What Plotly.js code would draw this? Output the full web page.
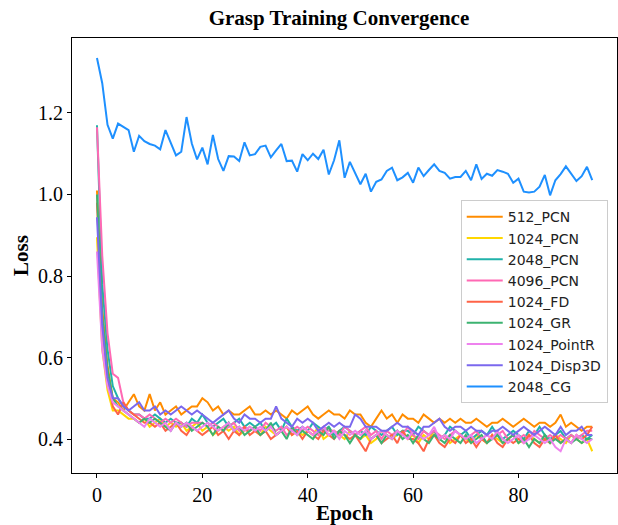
<!DOCTYPE html>
<html>
<head>
<meta charset="utf-8">
<script src="https://cdn.plot.ly/plotly-3.0.1.min.js"></script>
<style>html,body{margin:0;padding:0;background:#fff;}#chart{width:618px;height:525px;}</style>
</head>
<body>
<div id="chart"></div>
<script>
const seriesNames = ["512_PCN","1024_PCN","2048_PCN","4096_PCN","1024_FD","1024_GR","1024_PointR","1024_Disp3D","2048_CG"];
const seriesColors = ["#ff8c00","#ffd700","#20b2aa","#ff69b4","#ff6347","#3cb371","#ee82ee","#7b68ee","#1e90ff"];

const pcn512 = [1.01,0.72,0.58,0.50,0.49,0.47,0.49,0.51,0.48,0.47,
0.51,0.47,0.49,0.46,0.47,0.48,0.46,0.47,0.48,0.48,
0.50,0.49,0.47,0.48,0.46,0.47,0.46,0.46,0.47,0.48,
0.46,0.46,0.47,0.46,0.47,0.46,0.45,0.47,0.46,0.47,
0.48,0.46,0.45,0.46,0.47,0.46,0.46,0.45,0.47,0.46,
0.46,0.44,0.43,0.45,0.47,0.45,0.46,0.44,0.46,0.45,
0.45,0.44,0.46,0.45,0.44,0.45,0.44,0.45,0.44,0.45,
0.44,0.44,0.45,0.44,0.43,0.44,0.44,0.45,0.44,0.43,
0.44,0.45,0.44,0.43,0.44,0.44,0.43,0.44,0.46,0.43,
0.44,0.43,0.42,0.43,0.43];

const pcn1024 = [0.895,0.62,0.52,0.47,0.47,0.46,0.45,0.45,0.44,0.45,
0.43,0.44,0.45,0.43,0.44,0.43,0.44,0.42,0.43,0.44,
0.42,0.43,0.41,0.42,0.43,0.42,0.43,0.41,0.42,0.43,
0.42,0.41,0.43,0.42,0.41,0.42,0.43,0.41,0.42,0.41,
0.42,0.41,0.43,0.40,0.41,0.42,0.41,0.40,0.42,0.41,
0.40,0.41,0.39,0.40,0.42,0.41,0.40,0.41,0.42,0.40,
0.41,0.39,0.41,0.40,0.42,0.40,0.41,0.39,0.40,0.41,
0.40,0.39,0.41,0.40,0.39,0.41,0.40,0.39,0.40,0.41,
0.39,0.40,0.41,0.40,0.39,0.40,0.39,0.41,0.40,0.39,
0.41,0.40,0.39,0.40,0.37];

const pcn2048 = [1.17,0.78,0.62,0.53,0.50,0.48,0.47,0.46,0.46,0.45,
0.45,0.46,0.45,0.44,0.45,0.44,0.44,0.43,0.45,0.44,
0.46,0.44,0.43,0.44,0.45,0.43,0.44,0.45,0.43,0.44,
0.43,0.44,0.42,0.43,0.44,0.42,0.45,0.43,0.42,0.43,
0.42,0.44,0.43,0.42,0.43,0.41,0.42,0.43,0.42,0.41,
0.42,0.41,0.43,0.42,0.41,0.42,0.43,0.41,0.42,0.42,
0.41,0.43,0.42,0.41,0.42,0.40,0.41,0.43,0.42,0.41,
0.42,0.40,0.41,0.42,0.41,0.43,0.41,0.40,0.41,0.42,
0.41,0.40,0.42,0.41,0.43,0.41,0.40,0.41,0.42,0.40,
0.41,0.40,0.41,0.40,0.41];

const pcn4096 = [1.165,0.85,0.66,0.56,0.55,0.49,0.47,0.46,0.46,0.45,
0.46,0.45,0.44,0.45,0.44,0.45,0.44,0.43,0.44,0.44,
0.44,0.43,0.44,0.43,0.42,0.43,0.44,0.42,0.43,0.42,
0.43,0.42,0.44,0.43,0.42,0.43,0.41,0.42,0.43,0.42,
0.43,0.42,0.41,0.43,0.42,0.42,0.41,0.43,0.42,0.41,
0.42,0.43,0.41,0.42,0.40,0.42,0.41,0.42,0.41,0.43,
0.41,0.40,0.42,0.41,0.42,0.41,0.40,0.41,0.42,0.41,
0.40,0.41,0.42,0.40,0.41,0.40,0.41,0.42,0.40,0.41,
0.40,0.41,0.40,0.42,0.41,0.40,0.41,0.40,0.41,0.40,
0.41,0.40,0.41,0.42,0.42];

const fd1024 = [0.98,0.68,0.55,0.48,0.46,0.49,0.47,0.46,0.45,0.44,
0.44,0.43,0.44,0.42,0.43,0.44,0.42,0.41,0.43,0.42,
0.41,0.42,0.43,0.41,0.42,0.40,0.42,0.41,0.43,0.41,
0.42,0.41,0.42,0.40,0.41,0.42,0.43,0.41,0.42,0.40,
0.42,0.41,0.40,0.42,0.41,0.40,0.42,0.41,0.40,0.41,
0.39,0.37,0.40,0.41,0.39,0.40,0.41,0.39,0.42,0.40,
0.40,0.39,0.37,0.40,0.41,0.39,0.38,0.40,0.39,0.41,
0.39,0.40,0.38,0.40,0.39,0.41,0.39,0.38,0.40,0.39,
0.40,0.39,0.41,0.39,0.38,0.40,0.39,0.41,0.39,0.40,
0.39,0.41,0.40,0.41,0.43];

const gr1024 = [1.00,0.70,0.57,0.50,0.48,0.47,0.46,0.45,0.44,0.45,
0.44,0.45,0.44,0.43,0.42,0.44,0.43,0.44,0.42,0.43,
0.44,0.43,0.41,0.43,0.42,0.44,0.42,0.43,0.41,0.42,
0.43,0.41,0.42,0.44,0.41,0.42,0.40,0.43,0.41,0.42,
0.41,0.40,0.42,0.41,0.43,0.40,0.42,0.41,0.39,0.41,
0.40,0.42,0.40,0.41,0.39,0.41,0.40,0.42,0.40,0.41,
0.39,0.41,0.40,0.39,0.41,0.40,0.39,0.41,0.40,0.39,
0.41,0.39,0.40,0.41,0.39,0.40,0.41,0.39,0.40,0.41,
0.39,0.40,0.38,0.40,0.39,0.41,0.39,0.40,0.39,0.40,
0.39,0.40,0.39,0.40,0.40];

const pointR1024 = [0.86,0.62,0.53,0.49,0.48,0.47,0.46,0.45,0.44,0.43,
0.45,0.44,0.43,0.44,0.42,0.44,0.43,0.44,0.43,0.42,
0.43,0.44,0.43,0.42,0.43,0.44,0.42,0.43,0.42,0.43,
0.42,0.43,0.42,0.43,0.41,0.42,0.43,0.42,0.41,0.43,
0.42,0.41,0.42,0.43,0.41,0.42,0.40,0.42,0.41,0.42,
0.41,0.42,0.40,0.41,0.42,0.41,0.40,0.42,0.41,0.40,
0.42,0.41,0.40,0.41,0.43,0.40,0.41,0.40,0.42,0.41,
0.40,0.41,0.39,0.40,0.41,0.40,0.42,0.40,0.39,0.40,
0.41,0.39,0.40,0.41,0.40,0.39,0.40,0.38,0.37,0.40,
0.39,0.41,0.40,0.39,0.40];

const disp3d1024 = [0.944,0.68,0.55,0.50,0.50,0.48,0.47,0.48,0.49,0.47,
0.47,0.48,0.46,0.47,0.46,0.47,0.48,0.47,0.46,0.47,
0.46,0.45,0.44,0.45,0.46,0.47,0.45,0.44,0.46,0.45,
0.45,0.44,0.45,0.45,0.48,0.45,0.44,0.43,0.45,0.44,
0.45,0.44,0.42,0.43,0.44,0.43,0.44,0.43,0.43,0.46,
0.45,0.43,0.43,0.43,0.42,0.42,0.43,0.44,0.43,0.43,
0.42,0.41,0.43,0.43,0.44,0.45,0.43,0.42,0.43,0.43,
0.42,0.43,0.42,0.42,0.41,0.42,0.42,0.43,0.42,0.41,
0.42,0.43,0.42,0.41,0.42,0.43,0.42,0.41,0.43,0.41,
0.42,0.42,0.43,0.41,0.41];

const cg2048 = [1.335,1.273,1.171,1.137,1.174,1.167,1.158,1.105,1.144,1.131,
1.124,1.120,1.111,1.158,1.127,1.096,1.105,1.190,1.125,1.086,
1.115,1.074,1.146,1.087,1.058,1.094,1.093,1.082,1.128,1.096,
1.099,1.117,1.120,1.091,1.108,1.124,1.082,1.083,1.056,1.099,
1.084,1.100,1.087,1.110,1.049,1.084,1.133,1.041,1.080,1.051,
1.025,1.051,1.007,1.031,1.037,1.058,1.066,1.035,1.042,1.053,
1.029,1.066,1.045,1.060,1.074,1.058,1.053,1.039,1.043,1.043,
1.058,1.035,1.074,1.038,1.051,1.046,1.060,1.056,1.051,1.029,
1.039,1.007,1.005,1.007,1.019,1.048,0.998,1.035,1.050,1.069,
1.051,1.033,1.045,1.068,1.035];

const seriesValues = [pcn512,pcn1024,pcn2048,pcn4096,fd1024,gr1024,pointR1024,disp3d1024,cg2048];
const epochs = pcn512.map((_, i) => i);

const traces = seriesNames.map((name, k) => ({
  x: epochs,
  y: seriesValues[k],
  name: name,
  type: 'scatter',
  mode: 'lines',
  line: {color: seriesColors[k], width: 2}
}));

const serif = "'Liberation Serif', 'Times New Roman', serif";
const layout = {
  width: 618, height: 525,
  margin: {l: 72, r: 1, t: 38, b: 52},
  paper_bgcolor: '#ffffff', plot_bgcolor: '#ffffff',
  title: {text: '<b>Grasp Training Convergence</b>', x: 0.5485, xanchor: 'center', y: 0.966, yanchor: 'middle',
          font: {family: serif, size: 21, color: '#000'}},
  xaxis: {
    range: [-4.74, 98.7], tickvals: [0,20,40,60,80], ticktext: ['0','20','40','60','80'],
    ticks: 'outside', ticklen: 4, tickwidth: 1, tickcolor: '#000',
    showline: true, linecolor: '#000', linewidth: 1, mirror: true,
    showgrid: false, zeroline: false,
    tickfont: {family: serif, size: 20, color: '#000'},
    title: {text: '<b>Epoch</b>', font: {family: serif, size: 21, color: '#000'}, standoff: 3}
  },
  yaxis: {
    range: [0.3166, 1.384], tickvals: [0.4,0.6,0.8,1.0,1.2], ticktext: ['0.4','0.6','0.8','1.0','1.2'],
    ticks: 'outside', ticklen: 4, tickwidth: 1, tickcolor: '#000',
    showline: true, linecolor: '#000', linewidth: 1, mirror: true,
    showgrid: false, zeroline: false,
    tickfont: {family: serif, size: 20, color: '#000'},
    title: {text: '<b>Loss</b>', font: {family: serif, size: 21, color: '#000'}, standoff: 3}
  },
  legend: {
    x: 0.983, xanchor: 'right', y: 0.627, yanchor: 'top',
    bgcolor: 'rgba(255,255,255,0.9)', bordercolor: '#cccccc', borderwidth: 1,
    font: {family: "'DejaVu Sans', sans-serif", size: 14, color: '#222'},
    itemwidth: 36, tracegroupgap: 0
  },
  showlegend: true
};

Plotly.newPlot('chart', traces, layout, {staticPlot: true, displayModeBar: false});
</script>
</body>
</html>
